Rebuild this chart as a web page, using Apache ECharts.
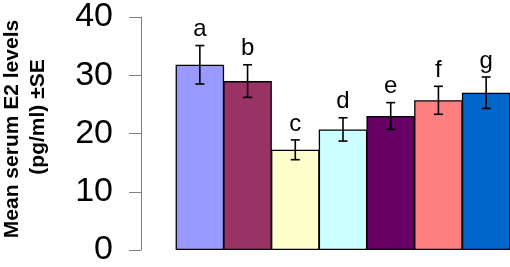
<!DOCTYPE html>
<html>
<head>
<meta charset="utf-8">
<script src="https://cdn.jsdelivr.net/npm/echarts@6/dist/echarts.min.js"></script>
<style>
  html, body { margin: 0; padding: 0; background: #fff; }
  #main { width: 510px; height: 267px; }
</style>
</head>
<body>
<div id="main"></div>
<script>
// groups (letters shown above each bar)
var groups = ['a', 'b', 'c', 'd', 'e', 'f', 'g'];
var means = [31.8, 29.0, 17.2, 20.7, 23.0, 25.7, 27.0];
var errors = [3.3, 2.8, 1.7, 2.0, 2.3, 2.4, 2.7];
var colors = ['#9999FF', '#993366', '#FFFFCC', '#CCFFFF', '#660066', '#FF8080', '#0066CC'];
var yTicks = [0, 10, 20, 30, 40];

var font = 'Liberation Sans, Arial, sans-serif';
var myChart = echarts.init(document.getElementById('main'));

var errData = means.map(function (m, i) { return [i, m - errors[i], m + errors[i]]; });
var topData = means.map(function (m, i) { return [i, m + errors[i]]; });

var option = {
    animation: false,
    grid: { left: 176, right: 0, top: 12, bottom: 15 },
    xAxis: {
        type: 'category',
        data: groups,
        axisLine: { show: false },
        axisTick: { show: false },
        axisLabel: { show: false }
    },
    yAxis: {
        type: 'value',
        min: yTicks[0],
        max: yTicks[yTicks.length - 1],
        interval: 10,
        offset: 35,
        splitLine: { show: false },
        axisLine: { show: true, lineStyle: { color: '#808080', width: 1 } },
        axisTick: { show: true, length: 12, lineStyle: { color: '#808080' } },
        axisLabel: { fontSize: 34, color: '#000', fontFamily: font, margin: 28 }
    },
    graphic: [
        {
            type: 'text', x: 2, y: 129, rotation: Math.PI / 2,
            style: {
                text: 'Mean serum E2 levels', font: 'bold 21px ' + font,
                fill: '#000', align: 'center', verticalAlign: 'top'
            }
        },
        {
            type: 'text', x: 28, y: 117, rotation: Math.PI / 2,
            style: {
                text: '(pg/ml) \u00b1SE', font: 'bold 21px ' + font,
                fill: '#000', align: 'center', verticalAlign: 'top'
            }
        }
    ],
    series: [
        {
            type: 'bar',
            barWidth: 48.5,
            barCategoryGap: 0,
            data: means.map(function (m, i) {
                return { value: m, itemStyle: { color: colors[i] } };
            }),
            itemStyle: { borderColor: '#000', borderWidth: 1.3 }
        },
        {
            type: 'custom',
            data: errData,
            z: 10,
            renderItem: function (params, api) {
                var lo = api.coord([api.value(0), api.value(1)]);
                var hi = api.coord([api.value(0), api.value(2)]);
                var w = 4.5;
                var st = { stroke: '#000', lineWidth: 1.6 };
                return {
                    type: 'group',
                    children: [
                        { type: 'line', shape: { x1: hi[0], y1: hi[1], x2: lo[0], y2: lo[1] }, style: st },
                        { type: 'line', shape: { x1: hi[0] - w, y1: hi[1], x2: hi[0] + w, y2: hi[1] }, style: st },
                        { type: 'line', shape: { x1: lo[0] - w, y1: lo[1], x2: lo[0] + w, y2: lo[1] }, style: st }
                    ]
                };
            }
        },
        {
            type: 'scatter',
            data: topData,
            symbolSize: 0,
            itemStyle: { opacity: 1 },
            label: {
                show: true,
                position: 'top',
                distance: 4,
                fontSize: 24,
                fontFamily: font,
                color: '#000',
                formatter: function (p) { return groups[p.dataIndex]; }
            }
        }
    ]
};

myChart.setOption(option);
</script>
</body>
</html>
